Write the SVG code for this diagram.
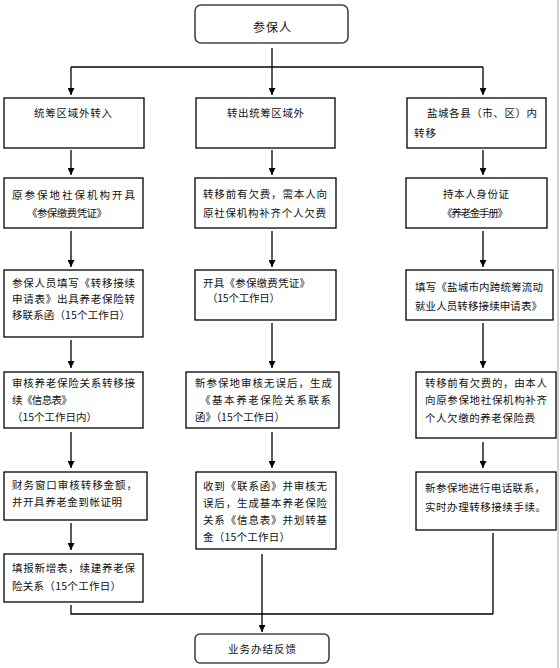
<svg xmlns="http://www.w3.org/2000/svg" width="560" height="668" viewBox="0 0 560 668">
<defs>
<style>
.box{fill:#fff;stroke:#000;stroke-width:1.3}
.rnd{fill:#fff;stroke:#444;stroke-width:1.6}
.t{font-family:"Noto Sans CJK SC","Noto Sans",sans-serif;font-size:10.5px;fill:#111}
.tc{font-family:"Noto Sans CJK SC","Noto Sans",sans-serif;font-size:10.5px;fill:#111;text-anchor:middle}
.ln{fill:none;stroke:#000;stroke-width:1.3}
</style>
<marker id="ah" viewBox="0 0 8 8" refX="8" refY="4" markerWidth="7" markerHeight="7" markerUnits="userSpaceOnUse" orient="auto">
<path d="M0,0 L8,4 L0,8 z" fill="#000"/>
</marker>
</defs>
<rect x="0" y="0" width="560" height="668" fill="#fff"/>
<line x1="558" y1="0" x2="558" y2="668" stroke="#c4c4c4" stroke-width="1.5"/>

<g id="connectors">
<path class="ln" d="M272,48 V95" marker-end="url(#ah)"/>
<path class="ln" d="M71,67 H483"/>
<path class="ln" d="M71,67 V95" marker-end="url(#ah)"/>
<path class="ln" d="M483,67 V95" marker-end="url(#ah)"/>
<path class="ln" d="M71,150 V175" marker-end="url(#ah)"/>
<path class="ln" d="M272,150 V175" marker-end="url(#ah)"/>
<path class="ln" d="M483,150 V175" marker-end="url(#ah)"/>
<path class="ln" d="M71,231 V267" marker-end="url(#ah)"/>
<path class="ln" d="M272,231 V267" marker-end="url(#ah)"/>
<path class="ln" d="M483,231 V267" marker-end="url(#ah)"/>
<path class="ln" d="M71,340 V368" marker-end="url(#ah)"/>
<path class="ln" d="M272,323 V368" marker-end="url(#ah)"/>
<path class="ln" d="M483,323 V368" marker-end="url(#ah)"/>
<path class="ln" d="M71,432 V468" marker-end="url(#ah)"/>
<path class="ln" d="M272,432 V468" marker-end="url(#ah)"/>
<path class="ln" d="M483,442 V468" marker-end="url(#ah)"/>
<path class="ln" d="M71,523 V550" marker-end="url(#ah)"/>
<path class="ln" d="M71,605 V614 H493"/>
<path class="ln" d="M493,533 V614"/>
<path class="ln" d="M262,554 V632" marker-end="url(#ah)"/>
</g>

<g id="n_start">
<rect class="rnd" x="195" y="5" width="153" height="38" rx="6"/>
<text class="tc" x="272" y="32" style="font-size:12px" textLength="38">参保人</text>
</g>

<g id="n_a1">
<rect class="box" x="4" y="98" width="140" height="50"/>
<text class="t" x="34" y="117" textLength="78">统筹区域外转入</text>
</g>
<g id="n_b1">
<rect class="box" x="196" y="98" width="139" height="50"/>
<text class="t" x="227" y="117" textLength="77">转出统筹区域外</text>
</g>
<g id="n_c1">
<rect class="box" x="407" y="98" width="139" height="50"/>
<text class="t" x="427" y="117" textLength="110">盐城各县（市、区）内</text>
<text class="t" x="414" y="137" textLength="22">转移</text>
</g>

<g id="n_a2">
<rect class="box" x="4" y="178" width="139" height="50"/>
<text class="t" x="12" y="199" textLength="123">原参保地社保机构开具</text>
<text class="t" x="27" y="217" textLength="80">《参保缴费凭证》</text>
</g>
<g id="n_b2">
<rect class="box" x="195" y="178" width="141" height="50"/>
<text class="t" x="203" y="198" textLength="124">转移前有欠费，需本人向</text>
<text class="t" x="203" y="217" textLength="123">原社保机构补齐个人欠费</text>
</g>
<g id="n_c2">
<rect class="box" x="406" y="178" width="141" height="50"/>
<text class="t" x="443" y="198" textLength="66">持本人身份证</text>
<text class="t" x="442" y="217" textLength="66">《养老金手册》</text>
</g>

<g id="n_a3">
<rect class="box" x="4" y="270" width="139" height="67"/>
<text class="t" x="12" y="287" textLength="123">参保人员填写《转移接续</text>
<text class="t" x="12" y="303" textLength="123">申请表》出具养老保险转</text>
<text class="t" x="12" y="319" textLength="118">移联系函（15个工作日）</text>
</g>
<g id="n_b3">
<rect class="box" x="195" y="270" width="141" height="50"/>
<text class="t" x="203" y="287" textLength="107">开具《参保缴费凭证》</text>
<text class="t" x="207" y="302" textLength="73">（15个工作日）</text>
</g>
<g id="n_c3">
<rect class="box" x="406" y="270" width="147" height="50"/>
<text class="t" x="415" y="291" textLength="128">填写《盐城市内跨统筹流动</text>
<text class="t" x="415" y="310" textLength="127">就业人员转移接续申请表》</text>
</g>

<g id="n_a4">
<rect class="box" x="4" y="372" width="139" height="56"/>
<text class="t" x="12" y="387" textLength="123">审核养老保险关系转移接</text>
<text class="t" x="12" y="404" textLength="60">续《信息表》</text>
<text class="t" x="12" y="421" textLength="85">（15个工作日内）</text>
</g>
<g id="n_b4">
<rect class="box" x="186" y="372" width="153" height="56"/>
<text class="t" x="195" y="387" textLength="137">新参保地审核无误后，生成</text>
<text class="t" x="200" y="404" textLength="131">《基本养老保险关系联系</text>
<text class="t" x="195" y="421" textLength="90">函》（15个工作日）</text>
</g>
<g id="n_c4">
<rect class="box" x="416" y="372" width="140" height="66"/>
<text class="t" x="425" y="387" textLength="122">转移前有欠费的，由本人</text>
<text class="t" x="425" y="404" textLength="122">向原参保地社保机构补齐</text>
<text class="t" x="425" y="422" textLength="110">个人欠缴的养老保险费</text>
</g>

<g id="n_a5">
<rect class="box" x="4" y="472" width="143" height="48"/>
<text class="t" x="12" y="489" textLength="125">财务窗口审核转移金额，</text>
<text class="t" x="12" y="506" textLength="110">并开具养老金到帐证明</text>
</g>
<g id="n_b5">
<rect class="box" x="196" y="472" width="140" height="77"/>
<text class="t" x="203" y="490" textLength="124">收到《联系函》并审核无</text>
<text class="t" x="203" y="507" textLength="124">误后，生成基本养老保险</text>
<text class="t" x="203" y="524" textLength="124">关系《信息表》并划转基</text>
<text class="t" x="203" y="541" textLength="87">金（15个工作日）</text>
</g>
<g id="n_c5">
<rect class="box" x="416" y="472" width="140" height="58"/>
<text class="t" x="425" y="492" textLength="120">新参保地进行电话联系，</text>
<text class="t" x="425" y="511" textLength="121">实时办理转移接续手续。</text>
</g>

<g id="n_a6">
<rect class="box" x="4" y="554" width="139" height="48"/>
<text class="t" x="12" y="572" textLength="123">填报新增表，续建养老保</text>
<text class="t" x="12" y="590" textLength="109">险关系（15个工作日）</text>
</g>

<g id="n_end">
<rect class="rnd" x="195" y="634" width="134" height="29" rx="5"/>
<text class="tc" x="262" y="653" textLength="68">业务办结反馈</text>
</g>
</svg>
